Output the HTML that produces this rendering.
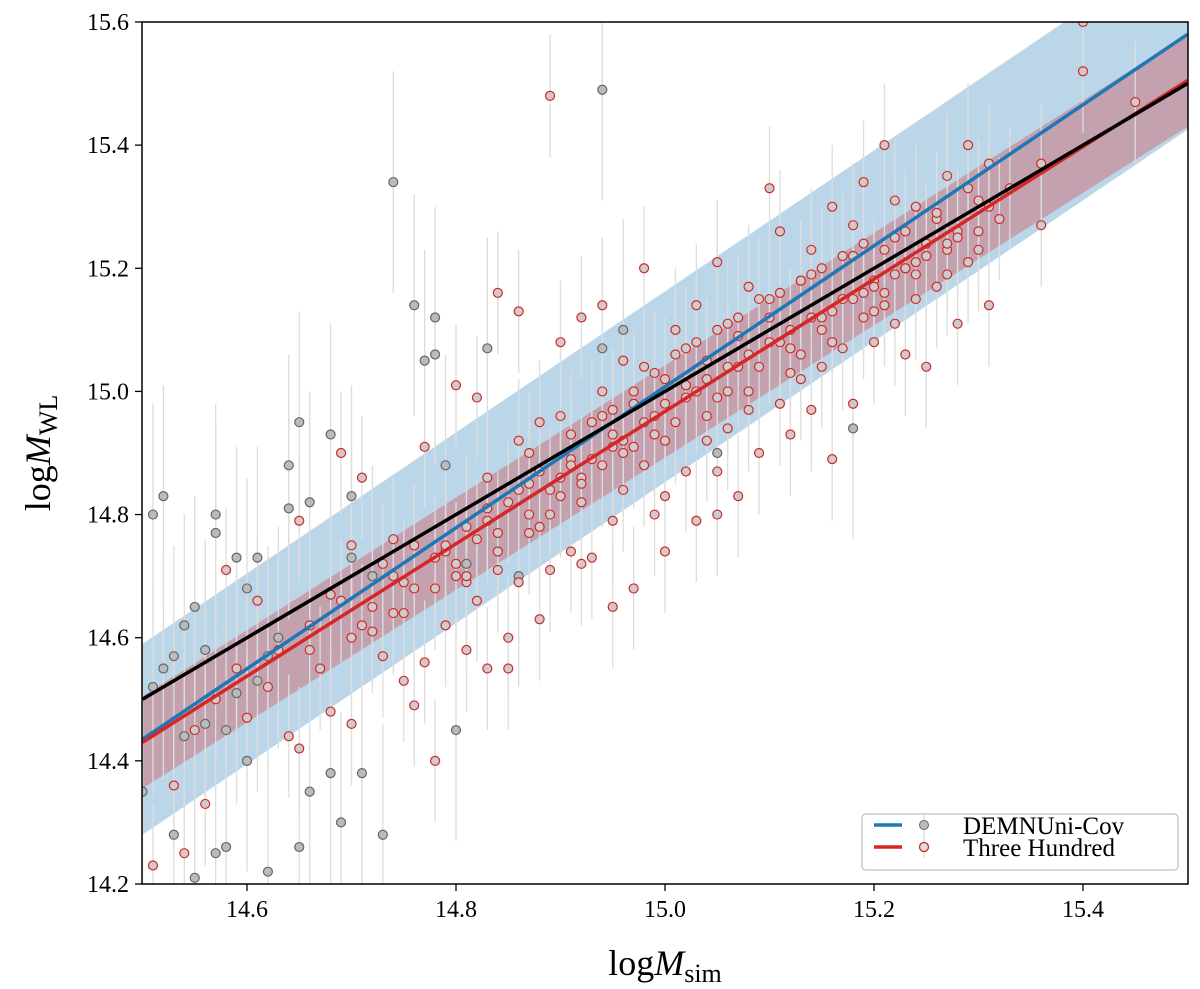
<!DOCTYPE html>
<html><head><meta charset="utf-8"><style>
body{margin:0;background:#fff;}
svg{display:block;font-family:"Liberation Serif",serif;}
</style></head><body>
<svg id="chart" width="1200" height="989" viewBox="0 0 1200 989" xmlns="http://www.w3.org/2000/svg">
<defs><clipPath id="clip"><rect x="142" y="22" width="1046" height="862"/></clipPath></defs>
<g id="bands" clip-path="url(#clip)"></g>
<g id="errs" clip-path="url(#clip)"></g>
<g id="pts" clip-path="url(#clip)"></g>
<g id="lines" clip-path="url(#clip)"></g>
<rect x="142" y="22" width="1046" height="862" fill="none" stroke="#000" stroke-width="1.5"/>
<g id="ticks"></g>
<text x="665" y="975" font-size="36" text-anchor="middle">log<tspan font-style="italic">M</tspan><tspan font-size="26" dy="7">sim</tspan></text>
<text transform="translate(50,453) rotate(-90)" font-size="36" text-anchor="middle">log<tspan font-style="italic">M</tspan><tspan font-size="26" dy="7">WL</tspan></text>
<g>
<rect x="862" y="814" width="316" height="56" rx="4" fill="#fff" fill-opacity="0.85" stroke="#ccc" stroke-width="1.5"/>
<line x1="874" y1="825" x2="902" y2="825" stroke="#1f77b4" stroke-width="3.5"/>
<line x1="924" y1="814" x2="924" y2="836" stroke="#ddd" stroke-width="1.5"/>
<circle cx="924" cy="825" r="4.5" fill="#bbb" stroke="#666" stroke-width="1"/>
<text x="963" y="834" font-size="25">DEMNUni-Cov</text>
<line x1="874" y1="847" x2="902" y2="847" stroke="#d62728" stroke-width="3.5"/>
<line x1="924" y1="836" x2="924" y2="858" stroke="#ddd" stroke-width="1.5"/>
<circle cx="924" cy="847" r="4.5" fill="#ddd" stroke="#d62728" stroke-width="1.3"/>
<text x="963" y="856" font-size="25">Three Hundred</text>
</g>
</svg>
<script>
const xTicks=[14.6,14.8,15.0,15.2,15.4];
const yTicks=[14.2,14.4,14.6,14.8,15.0,15.2,15.4,15.6];
const grayX=[14.50,14.51,14.52,14.52,14.53,14.54,14.55,14.55,14.56,14.57,14.57,14.58,14.58,14.59,14.60,14.60,14.61,14.62,14.63,14.64,14.64,14.65,14.65,14.66,14.68,14.68,14.69,14.70,14.71,14.72,14.73,14.74,14.76,14.77,14.78,14.78,14.79,14.80,14.81,14.83,14.86,14.94,14.94,14.96,15.05,15.18,14.62,14.66,14.70,14.57,14.51,14.53,14.56,14.59,14.54,14.61];
const grayY=[14.35,14.80,14.55,14.83,14.28,14.62,14.65,14.21,14.58,14.80,14.77,14.45,14.26,14.73,14.68,14.40,14.73,14.22,14.60,14.88,14.81,14.26,14.95,14.35,14.93,14.38,14.30,14.73,14.38,14.70,14.28,15.34,15.14,15.05,15.12,15.06,14.88,14.45,14.72,15.07,14.70,15.49,15.07,15.10,14.90,14.94,14.57,14.82,14.83,14.25,14.52,14.57,14.46,14.51,14.44,14.53];
const redX=[14.51,14.53,14.54,14.55,14.56,14.57,14.58,14.59,14.60,14.61,14.62,14.63,14.64,14.65,14.65,14.66,14.67,14.68,14.69,14.70,14.70,14.71,14.72,14.73,14.74,14.75,14.75,14.76,14.77,14.77,14.78,14.78,14.79,14.80,14.80,14.81,14.81,14.82,14.82,14.83,14.83,14.84,14.84,14.85,14.85,14.86,14.86,14.87,14.87,14.88,14.88,14.89,14.89,14.90,14.90,14.91,14.91,14.92,14.92,14.93,14.93,14.94,14.94,14.95,14.95,14.96,14.96,14.97,14.97,14.98,14.98,14.99,14.99,15.00,15.00,15.01,15.01,15.02,15.02,15.03,15.03,15.04,15.04,15.05,15.05,15.06,15.06,15.07,15.07,15.08,15.08,15.09,15.09,15.10,15.10,15.11,15.11,15.12,15.12,15.13,15.13,15.14,15.14,15.15,15.15,15.16,15.16,15.17,15.17,15.18,15.18,15.19,15.19,15.20,15.20,15.21,15.21,15.22,15.22,15.23,15.23,15.24,15.24,15.25,15.25,15.26,15.26,15.27,15.27,15.28,15.28,15.29,15.30,15.30,15.31,15.31,15.32,15.33,15.36,15.36,15.40,15.40,15.45,14.89,14.76,14.85,14.95,15.05,14.92,15.00,
14.66,14.68,14.71,14.73,14.74,14.76,14.79,14.80,14.82,14.83,14.84,14.86,14.87,14.88,14.90,14.91,14.92,14.93,14.94,14.95,14.96,14.97,14.98,14.99,15.00,15.01,15.02,15.03,15.04,15.05,15.06,15.07,15.08,15.09,15.10,15.11,15.12,15.13,15.14,15.15,15.16,15.17,15.18,15.19,15.20,15.21,15.22,15.23,15.24,15.25,15.26,15.28,15.29,15.31,
14.70,14.72,14.75,14.78,14.81,14.84,14.86,14.88,14.90,14.92,14.94,14.96,14.98,15.00,15.02,15.04,15.06,15.08,15.10,15.12,15.14,15.16,15.18,15.20,15.22,15.24,15.27,15.30,
14.69,14.74,14.79,14.83,14.87,14.91,14.95,14.99,15.03,15.07,15.11,15.15,15.19,15.23,15.27,14.81,14.89,14.97,15.05,15.13,15.21,15.29];
const redY=[14.23,14.36,14.25,14.45,14.33,14.50,14.71,14.55,14.47,14.66,14.52,14.58,14.44,14.79,14.42,14.62,14.55,14.48,14.90,14.60,14.46,14.86,14.65,14.57,14.70,14.53,14.64,14.75,14.56,14.91,14.40,14.68,14.62,15.01,14.72,14.58,14.78,14.99,14.66,14.86,14.55,14.74,15.16,14.60,14.82,15.13,14.69,14.90,14.77,14.63,14.95,14.80,14.71,15.08,14.86,14.74,14.93,14.82,15.12,14.73,14.89,15.14,14.96,14.79,14.91,15.05,14.84,14.68,14.98,15.20,14.88,14.93,14.80,15.02,14.83,14.95,15.10,14.87,14.99,15.14,14.79,15.05,14.92,14.87,15.21,15.00,14.94,15.09,14.83,15.17,14.97,15.04,14.90,15.33,15.12,14.98,15.26,15.07,14.93,15.18,15.02,14.97,15.23,15.10,15.04,14.89,15.30,15.15,15.07,15.22,14.98,15.12,15.34,15.18,15.08,15.40,15.14,15.25,15.11,15.06,15.20,15.30,15.15,15.22,15.04,15.28,15.17,15.35,15.19,15.11,15.26,15.40,15.23,15.31,15.14,15.37,15.28,15.33,15.27,15.37,15.52,15.60,15.47,15.48,14.49,14.55,14.65,14.80,14.72,14.74,
14.58,14.67,14.62,14.72,14.64,14.68,14.74,14.70,14.76,14.79,14.71,14.84,14.80,14.87,14.83,14.89,14.86,14.95,14.88,14.97,14.92,15.00,14.95,15.03,14.98,15.06,15.01,15.08,15.02,15.10,15.04,15.12,15.06,15.15,15.08,15.16,15.10,15.18,15.12,15.20,15.13,15.22,15.15,15.24,15.17,15.23,15.19,15.26,15.21,15.24,15.29,15.25,15.33,15.30,
14.75,14.61,14.69,14.73,14.69,14.77,14.92,14.78,14.96,14.85,15.00,14.90,15.04,14.92,15.07,14.96,15.11,15.00,15.15,15.03,15.19,15.08,15.27,15.13,15.31,15.19,15.23,15.26,
14.66,14.76,14.75,14.81,14.85,14.88,14.93,14.96,15.00,15.04,15.08,15.12,15.16,15.20,15.24,14.70,14.84,14.91,14.99,15.06,15.16,15.21];
const blueFit=[14.435,15.58], redFit=[14.43,15.505], oneToOne=[14.5,15.5];
const blueScatter=0.155, redScatter=0.075;

const NS="http://www.w3.org/2000/svg";
const X=v=>142.5+(v-14.5)*1045;
const Y=v=>22+(15.6-v)*615.7;
function mk(tag,attrs,parent){const e=document.createElementNS(NS,tag);for(const k in attrs)e.setAttribute(k,attrs[k]);parent.appendChild(e);return e;}
const bands=document.getElementById('bands'),errs=document.getElementById('errs'),pts=document.getElementById('pts'),lines=document.getElementById('lines'),ticks=document.getElementById('ticks');
function band(fit,s,col,op,name){
  const p=mk('polygon',{points:`${X(14.5)},${Y(fit[0]+s)} ${X(15.5)},${Y(fit[1]+s)} ${X(15.5)},${Y(fit[1]-s)} ${X(14.5)},${Y(fit[0]-s)}`,fill:col,'fill-opacity':op},bands);
  
  
}
band(blueFit,blueScatter,'#1f77b4',0.3,'blue-scatter-band');
band(redFit,redScatter,'#d62728',0.3,'red-scatter-band');
function scatter(xs,ys,fill,stroke,err,name){
  xs.forEach((x,i)=>{
    const y=ys[i];
    const l=mk('line',{x1:X(x),x2:X(x),y1:Y(y+err),y2:Y(y-err),stroke:'#ddd','stroke-width':1.3},errs);
    
    
    const c=mk('circle',{cx:X(x),cy:Y(y),r:4.5,fill:fill,stroke:stroke,'stroke-width':1.2},pts);
    
    
  });
}
scatter(grayX,grayY,'#bbb','#666',0.18,'demnuni');
scatter(redX,redY,'#ccc','#d62728',0.1,'three-hundred');
function fitLine(fit,col,name){
  const l=mk('line',{x1:X(14.5),y1:Y(fit[0]),x2:X(15.5),y2:Y(fit[1]),stroke:col,'stroke-width':3.5},lines);
  
  
}
fitLine(blueFit,'#1f77b4','demnuni-fit-line');
fitLine(redFit,'#d62728','three-hundred-fit-line');
fitLine(oneToOne,'#000','one-to-one-line');
xTicks.forEach(t=>{
  const l=mk('line',{x1:X(t),x2:X(t),y1:884,y2:891,stroke:'#000','stroke-width':1.3},ticks);
  
  
  const tx=mk('text',{x:X(t),y:917,'font-size':24,'text-anchor':'middle'},ticks);
  tx.textContent=t.toFixed(1);
  
  
});
yTicks.forEach(t=>{
  const l=mk('line',{x1:135,x2:142,y1:Y(t),y2:Y(t),stroke:'#000','stroke-width':1.3},ticks);
  
  
  const tx=mk('text',{x:129,y:Y(t)+8,'font-size':24,'text-anchor':'end'},ticks);
  tx.textContent=t.toFixed(1);
  
  
});
</script>
</body></html>
